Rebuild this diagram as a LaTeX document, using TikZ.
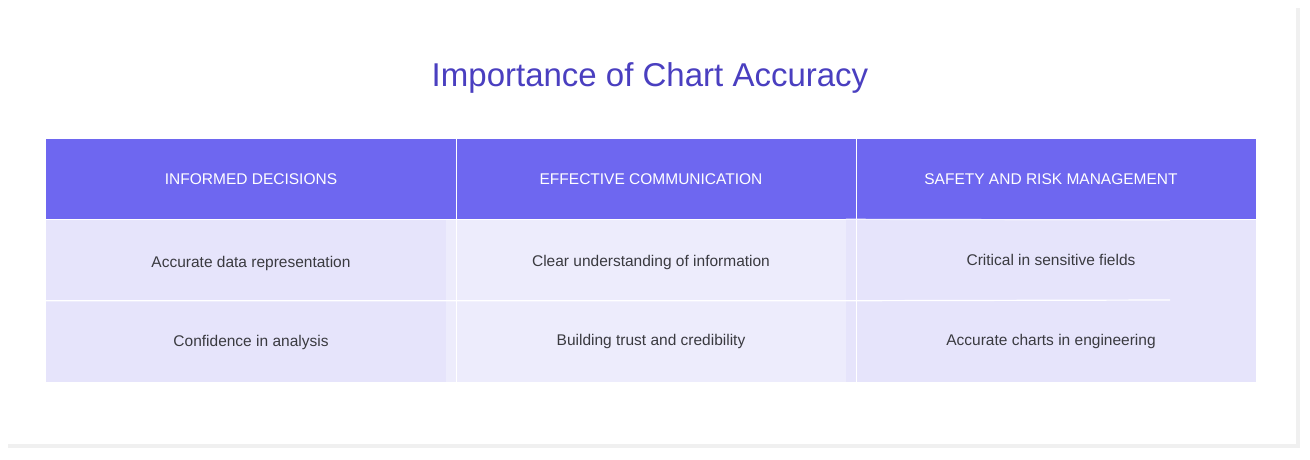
\documentclass[tikz,border=0pt]{standalone}
\usepackage{fontspec}
\setmainfont{Liberation Sans}
\definecolor{headviolet}{HTML}{6E67F0}
\definecolor{cellviolet}{HTML}{E6E4FB}
\definecolor{midviolet}{HTML}{EDECFC}
\definecolor{titleviolet}{HTML}{4A3FC0}
\definecolor{celltext}{HTML}{3A3A40}
\tikzset{
    headcell/.style={fill=headviolet, text=white, minimum width=410pt, minimum height=80pt, inner sep=0pt, font=\fontsize{15.5}{18}\selectfont},
    bodycell/.style={fill=cellviolet, text=celltext, minimum width=410pt, minimum height=81pt, inner sep=0pt, font=\fontsize{15.5}{18}\selectfont},
    sepline/.style={white, line width=1.2pt}
}
\begin{document}
\begin{tikzpicture}[x=1pt, y=-1pt]
    \useasboundingbox (0,0) rectangle (1310,459);
    % card with soft shadow
    \fill[black!6] (8,8) rectangle (1300,448);
    \fill[white] (5,5) rectangle (1296,444);

    \node[text=titleviolet, font=\fontsize{33}{38}\selectfont] (title) at (650,78) {Importance of Chart Accuracy};

    % header row
    \node[headcell] (h1) at (251,179) {INFORMED DECISIONS};
    \node[headcell] (h2) at (651,179) {EFFECTIVE COMMUNICATION};
    \node[headcell] (h3) at (1051,179) {SAFETY AND RISK MANAGEMENT};

    % body rows
    \node[bodycell] (a1) at (251,260) {};
    \node[bodycell, fill=midviolet] (a2) at (651,260) {};
    \node[bodycell] (a3) at (1051,260) {};
    \node[bodycell] (b1) at (251,341) {};
    \node[bodycell, fill=midviolet] (b2) at (651,341) {};
    \node[bodycell] (b3) at (1051,341) {};

    \node[text=celltext, font=\fontsize{15.5}{18}\selectfont] at (251,263) {Accurate data representation};
    \node[text=celltext, font=\fontsize{15.5}{18}\selectfont] at (651,262) {Clear understanding of information};
    \node[text=celltext, font=\fontsize{15.5}{18}\selectfont] at (1051,260) {Critical in sensitive fields};
    \node[text=celltext, font=\fontsize{15.5}{18}\selectfont] at (251,342) {Confidence in analysis};
    \node[text=celltext, font=\fontsize{15.5}{18}\selectfont] at (651,341) {Building trust and credibility};
    \node[text=celltext, font=\fontsize{15.5}{18}\selectfont] at (1051,341) {Accurate charts in engineering};

    % separators
    \draw[sepline] (h1.north east) -- (b1.south east);
    \draw[sepline] (h2.north east) -- (b2.south east);
    \draw[sepline] (a1.south west) -- (a2.south east) -- (1170,300);
    \draw[sepline, white!60!cellviolet] (a3.north west) -- (1170,220);
\end{tikzpicture}
\end{document}
